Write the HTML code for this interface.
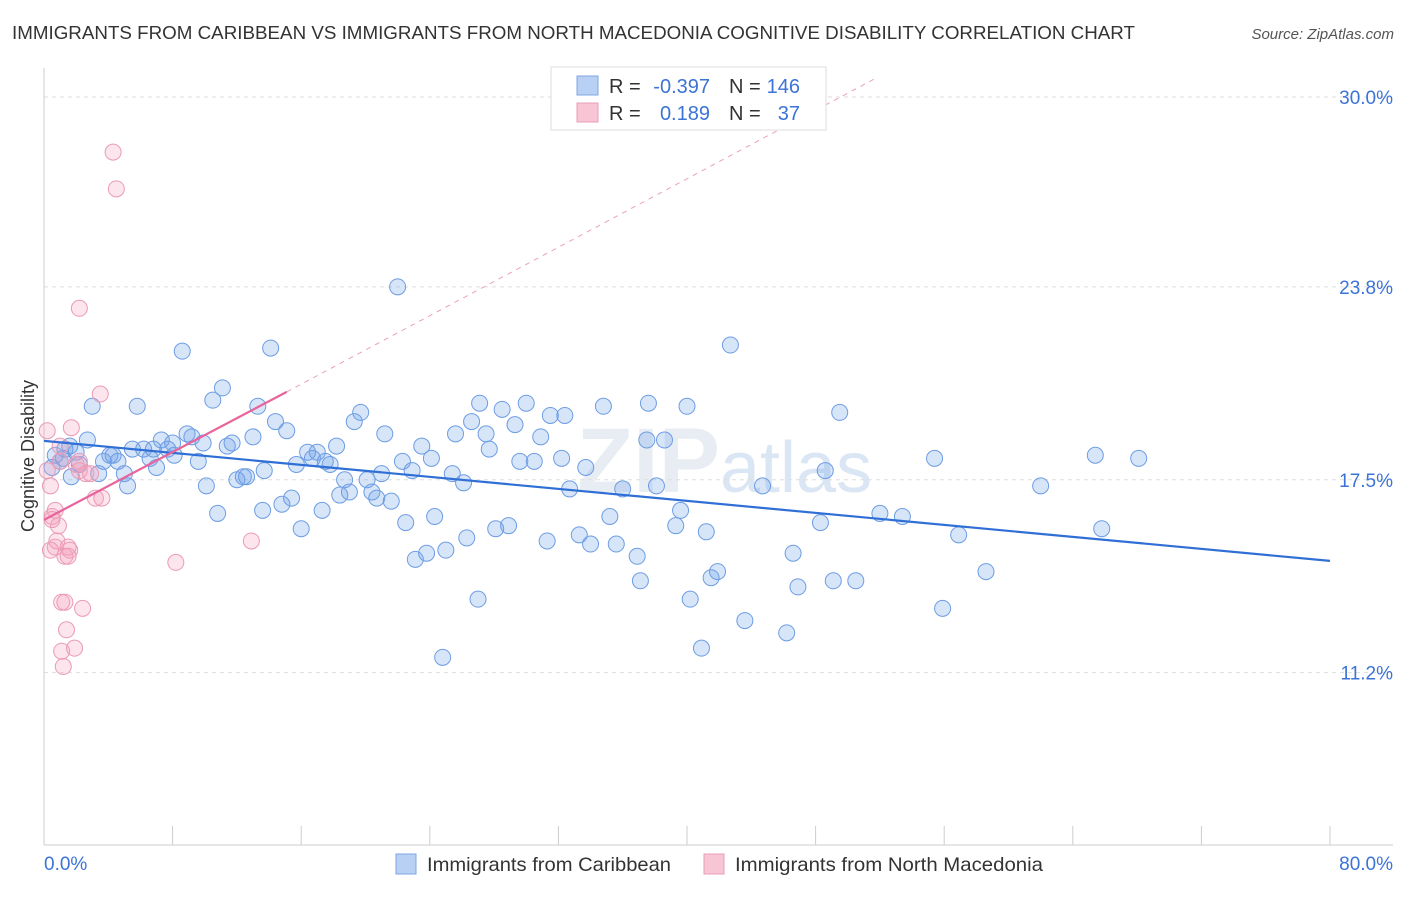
<!DOCTYPE html>
<html><head><meta charset="utf-8">
<style>
body{margin:0;background:#fff;font-family:"Liberation Sans",sans-serif;}
svg text{font-family:"Liberation Sans",sans-serif;}
</style></head>
<body>
<svg width="1406" height="892" viewBox="0 0 1406 892" xmlns="http://www.w3.org/2000/svg">
<text x="12" y="39" font-size="18.5" fill="#333" textLength="1123" lengthAdjust="spacingAndGlyphs">IMMIGRANTS FROM CARIBBEAN VS IMMIGRANTS FROM NORTH MACEDONIA COGNITIVE DISABILITY CORRELATION CHART</text>
<text x="1394" y="39" font-size="15" fill="#555" font-style="italic" text-anchor="end">Source: ZipAtlas.com</text>
<text x="720" y="492" font-size="92" fill="#e8edf4" text-anchor="end" font-family="Liberation Serif" font-weight="bold">ZIP</text>
<text x="720" y="492" font-size="72" fill="#dbe6f5">atlas</text>
<g id="grid"></g>
<g id="axes"></g>
<g id="lines2"></g>
<g id="pts"></g>
<g id="lines"></g>
<text transform="translate(34,456) rotate(-90)" font-size="18" fill="#333" text-anchor="middle">Cognitive Disability</text>
<text x="44" y="870" font-size="19" fill="#3b73d6">0.0%</text>
<text x="1393" y="870" font-size="19" fill="#3b73d6" text-anchor="end">80.0%</text>
<g>
<rect x="551" y="67" width="275" height="63" fill="#fff" stroke="#ddd"/>
<rect x="577" y="76" width="21" height="19" fill="#b8d0f4" stroke="#7fa6e3"/>
<rect x="577" y="103" width="21" height="19" fill="#f8c5d4" stroke="#ea9db6"/>
<text x="609" y="93" font-size="20" fill="#333">R = </text>
<text x="710" y="93" font-size="20" fill="#3b73d6" text-anchor="end">-0.397</text>
<text x="729" y="93" font-size="20" fill="#333">N = </text>
<text x="800" y="93" font-size="20" fill="#3b73d6" text-anchor="end">146</text>
<text x="609" y="120" font-size="20" fill="#333">R = </text>
<text x="710" y="120" font-size="20" fill="#3b73d6" text-anchor="end">0.189</text>
<text x="729" y="120" font-size="20" fill="#333">N = </text>
<text x="800" y="120" font-size="20" fill="#3b73d6" text-anchor="end">37</text>
</g>
<g>
<rect x="396" y="854" width="20" height="20" fill="#b8d0f4" stroke="#7fa6e3"/>
<text x="427" y="871" font-size="19.8" fill="#333" textLength="244" lengthAdjust="spacingAndGlyphs">Immigrants from Caribbean</text>
<rect x="704" y="854" width="20" height="20" fill="#f8c5d4" stroke="#ea9db6"/>
<text x="735" y="871" font-size="19.8" fill="#333" textLength="308" lengthAdjust="spacingAndGlyphs">Immigrants from North Macedonia</text>
</g>
</svg>
<script>
const yTicks=[30.0,23.8,17.5,11.2];
const yTickLabels=["30.0%","23.8%","17.5%","11.2%"];
const xTicks=[0,8,16,24,32,40,48,56,64,72,80];
const blueX=[0.7,1.0,1.3,1.6,1.7,2.2,2.7,3.0,3.4,3.7,4.1,4.3,4.6,5.0,5.2,5.5,5.8,6.2,6.6,6.8,7.0,7.3,7.7,8.0,8.1,8.6,8.9,9.2,9.6,9.9,10.1,10.5,10.8,11.1,11.4,11.7,12.0,12.4,12.6,13.0,13.3,13.6,13.7,14.1,14.4,14.8,15.1,15.4,15.7,16.0,16.4,16.7,17.0,17.3,17.5,17.8,18.2,18.4,18.7,19.0,19.3,19.7,20.1,20.4,20.7,21.0,21.2,21.6,22.0,22.3,22.5,22.9,23.1,23.5,23.8,24.1,24.3,24.8,25.0,25.4,25.6,26.1,26.3,26.6,27.0,27.1,27.5,27.7,28.1,28.5,28.9,29.3,29.6,30.0,30.5,30.9,31.3,31.5,32.2,32.4,32.7,33.3,33.7,34.0,34.8,35.2,35.6,36.0,36.9,37.1,37.5,37.6,38.1,38.6,39.3,39.6,40.0,40.2,41.2,41.5,41.9,42.7,43.6,44.7,46.2,46.6,46.9,48.3,48.6,49.1,49.5,50.5,52.0,53.4,55.4,55.9,56.9,58.6,62.0,65.4,65.8,68.1,0.5,1.2,2.0,40.9];
const blueY=[18.3,18.1,18.5,18.6,17.6,18.0,18.8,19.9,17.7,18.1,18.3,18.3,18.1,17.7,17.3,18.5,19.9,18.5,18.2,18.5,17.9,18.8,18.5,18.7,18.3,21.7,19.0,18.9,18.1,18.7,17.3,20.1,16.4,20.5,18.6,18.7,17.5,17.6,17.6,18.9,19.9,16.5,17.8,21.8,19.4,16.7,19.1,16.9,18.0,15.9,18.4,18.2,18.4,16.5,18.1,18.0,18.6,17.0,17.5,17.1,19.4,19.7,17.5,17.1,16.9,17.7,19.0,16.8,23.8,18.1,16.1,17.8,14.9,18.6,15.1,18.2,16.3,11.7,15.2,17.7,19.0,17.4,15.6,19.4,13.6,20.0,19.0,18.5,15.9,19.8,16.0,19.3,18.1,20.0,18.1,18.9,15.5,19.6,18.2,19.6,17.2,15.7,17.9,15.4,19.9,16.3,15.4,17.2,15.0,14.2,18.8,20.0,17.3,18.8,16.0,16.5,19.9,13.6,15.8,14.3,14.5,21.9,12.9,17.3,12.5,15.1,14.0,16.1,17.8,14.2,19.7,14.2,16.4,16.3,18.2,13.3,15.7,14.5,17.3,18.3,15.9,18.2,17.9,18.2,18.4,12.0];
const pinkX=[0.2,0.2,0.4,0.5,0.7,0.7,0.8,0.9,1.0,1.1,1.1,1.2,1.3,1.4,1.5,1.6,1.7,1.9,2.0,2.2,2.2,2.4,2.6,3.2,3.5,3.6,2.2,4.3,4.5,8.2,12.9,1.3,1.0,2.9,1.5,0.5,0.4];
const pinkY=[19.1,17.8,17.3,16.3,16.5,15.3,15.5,16.0,18.6,13.5,11.9,11.4,15.0,12.6,15.3,15.2,19.2,12.0,18.0,18.1,17.8,13.3,17.7,16.9,20.3,16.9,23.1,28.2,27.0,14.8,15.5,13.5,18.1,17.7,15.0,16.2,15.2];
const blueLine=[[0,18.77],[80,14.85]];
const pinkLine=[[0,16.19],[15.1,20.37]];
const pinkDash=[[15.1,20.37],[51.7,30.6]];
const NS='http://www.w3.org/2000/svg';
const X=v=>44+v/80*1286;
const Y=v=>97+(30-v)*30.62;
function mk(tag,attrs,parent){const e=document.createElementNS(NS,tag);for(const k in attrs)e.setAttribute(k,attrs[k]);document.getElementById(parent).appendChild(e);return e;}
yTicks.forEach((t,i)=>{
  const g=mk('line',{x1:44,x2:1393,y1:Y(t),y2:Y(t),stroke:'#ddd','stroke-dasharray':'4,4'},'grid');
  
  
  const l=mk('text',{x:1393,y:Y(t)+7,'font-size':19,fill:'#3b73d6','text-anchor':'end'},'grid');
  l.textContent=yTickLabels[i];
  
  
});
const ax=mk('line',{x1:44,x2:1393,y1:845,y2:845,stroke:'#ccc'},'axes');


const ay=mk('line',{x1:44,x2:44,y1:68,y2:845,stroke:'#ccc'},'axes');


xTicks.forEach(t=>{
  const e=mk('line',{x1:X(t),x2:X(t),y1:826,y2:845,stroke:'#ccc'},'axes');
  
  
});
blueX.forEach((x,i)=>{
  const c=mk('circle',{cx:X(x),cy:Y(blueY[i]),r:8,fill:'rgba(110,160,235,0.28)',stroke:'#6d9de3','stroke-width':1},'pts');
  
  
});
pinkX.forEach((x,i)=>{
  const c=mk('circle',{cx:X(x),cy:Y(pinkY[i]),r:8,fill:'rgba(245,160,190,0.28)',stroke:'#eb9ab6','stroke-width':1},'pts');
  
  
});
const bl=mk('line',{x1:X(blueLine[0][0]),y1:Y(blueLine[0][1]),x2:X(blueLine[1][0]),y2:Y(blueLine[1][1]),stroke:'#2f6fd6','stroke-width':2.2},'lines');


const pl=mk('line',{x1:X(pinkLine[0][0]),y1:Y(pinkLine[0][1]),x2:X(pinkLine[1][0]),y2:Y(pinkLine[1][1]),stroke:'#e8649a','stroke-width':2.2},'lines');


const pd=mk('line',{x1:X(pinkDash[0][0]),y1:Y(pinkDash[0][1]),x2:X(pinkDash[1][0]),y2:Y(pinkDash[1][1]),stroke:'#eaa0bc','stroke-width':1,'stroke-dasharray':'5,5'},'lines2');


</script>
</body></html>
